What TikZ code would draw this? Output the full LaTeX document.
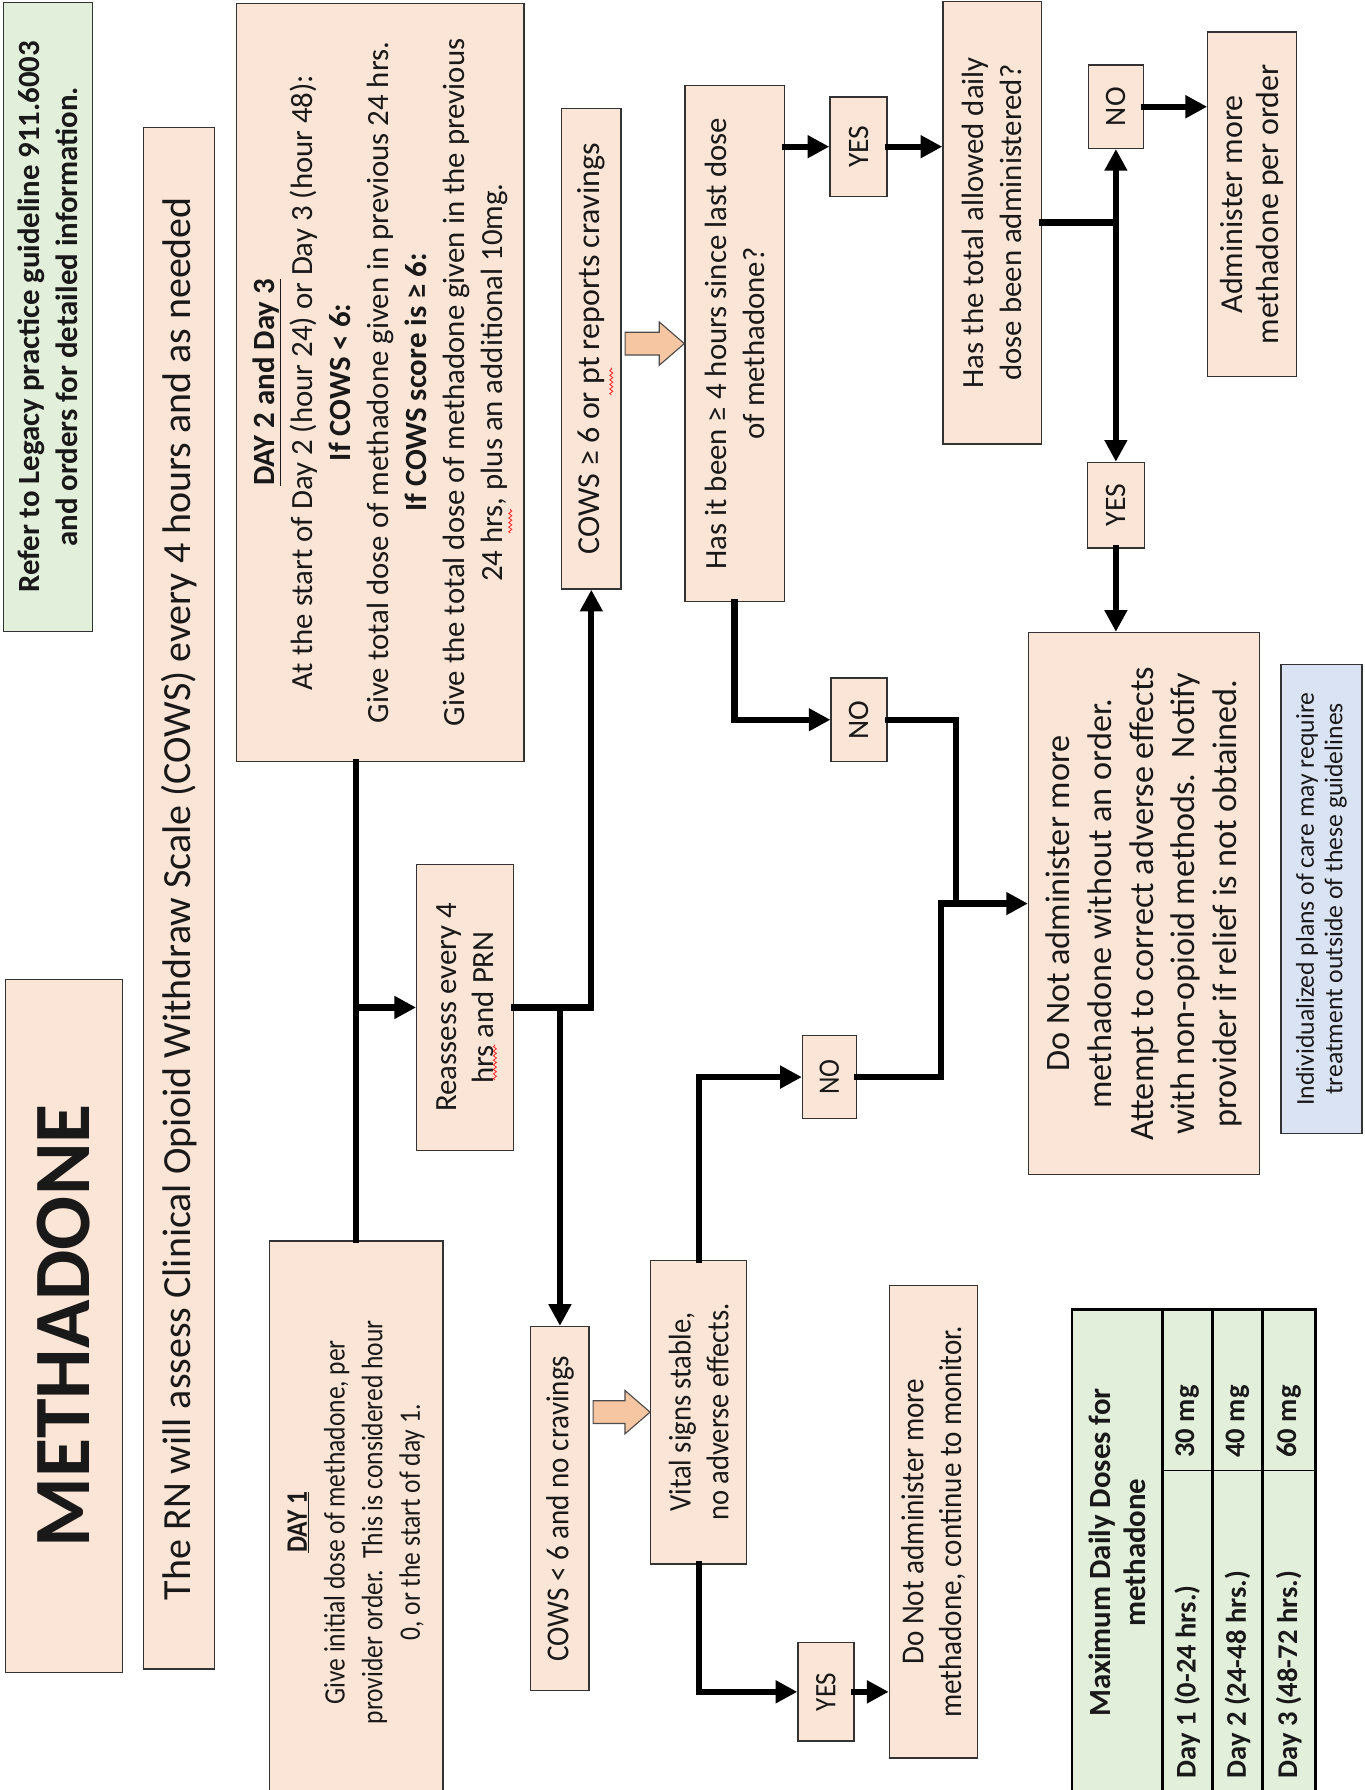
\documentclass[tikz,border=0pt]{standalone}
\usepackage{fontspec}
\setmainfont{Carlito}
\newfontfamily\condfont[FakeStretch=0.86]{Carlito}
\newfontfamily\semicond[FakeStretch=0.91]{Carlito}
\usetikzlibrary{arrows.meta,calc,decorations.pathmorphing}
\definecolor{peach}{HTML}{FBE5D6}
\definecolor{lgreen}{HTML}{E2EFDA}
\definecolor{lblue}{HTML}{DAE3F3}
\definecolor{bafill}{HTML}{F6C6A3}
\begin{document}
\begin{tikzpicture}[x=1pt,y=-1pt,
  box/.style={draw=black!80, line width=1.1pt, fill=peach, rotate=90, align=center, inner sep=1pt, text=black!90,
    font=\fontsize{27}{33}\selectfont},
  yn/.style={box, font=\fontsize{26}{30}\selectfont},
  conn/.style={line width=5.5pt, black, line cap=rect},
  arr/.style={conn, -{Triangle[length=19pt,width=19pt]}},
  barrow/.style={draw=black!70, line width=1pt, fill=bafill, line join=miter},
  tcell/.style={rotate=90, anchor=west, inner sep=0pt, font=\bfseries\fontsize{25}{29}\selectfont, text=black!90},
  squiggle/.style={red!80, line width=0.8pt, decorate, decoration={snake, amplitude=1.3pt, segment length=4pt}}]
\useasboundingbox (0,0) rectangle (1195,1568);

% ---------- boxes ----------
\node[box, fill=lgreen, minimum width=551, minimum height=78, font=\bfseries\fontsize{27}{33}\selectfont] (refer) at (42,277.5)
  {Refer to Legacy practice guideline 911.6003\\and orders for detailed information.};
\node[box, minimum width=607, minimum height=102, font=\bfseries\fontsize{70}{76}\selectfont] (title) at (56,1161.5) {METHADONE};
\node[box, minimum width=1350, minimum height=62, font=\fontsize{35}{40}\selectfont] (rn) at (157,787)
  {The RN will assess Clinical Opioid Withdraw Scale (COWS) every 4 hours and as needed};
\node[box, minimum width=664, minimum height=252, font=\fontsize{27}{33.3}\selectfont] (day23) at (333,335)
  {\underline{\textbf{DAY 2 and Day 3}}\\
   At the start of Day 2 (hour 24) or Day 3 (hour 48):\\
   \textbf{If COWS < 6:}\\
   Give total dose of methadone given in previous 24 hrs.\\
   \textbf{If COWS score is ≥ 6:}\\
   Give the total dose of methadone given in the previous\\
   24 hrs, plus an additional 10mg.};
\node[box, minimum width=493, minimum height=152, font=\condfont\fontsize{26}{33}\selectfont] (day1) at (312,1333.5)
  {\underline{\textbf{DAY 1}}\\
   Give initial dose of methadone, per\\
   provider order.\ \ This is considered hour\\
   0, or the start of day 1.};
\node[box, minimum width=251, minimum height=85] (reassess) at (407.5,882.5) {Reassess every 4\\hrs and PRN};
\node[box, minimum width=421, minimum height=52, font=\fontsize{28}{33}\selectfont] (cowsHi) at (518,305.5) {COWS ≥ 6 or pt reports cravings};
\node[box, minimum width=319, minimum height=51, font=\semicond\fontsize{28}{33}\selectfont] (cowsLo) at (490.5,1321.5) {COWS < 6 and no cravings};
\node[box, minimum width=452, minimum height=87] (q1) at (643.5,301) {Has it been ≥ 4 hours since last dose\\of methadone?};
\node[box, minimum width=266, minimum height=84, font=\semicond\fontsize{27.5}{33}\selectfont] (vital) at (612,1237) {Vital signs stable,\\no adverse effects.};
\node[yn, minimum width=87, minimum height=50] (yes1) at (752,128.5) {YES};
\node[box, minimum width=388, minimum height=86] (q2) at (869,195) {Has the total allowed daily\\dose been administered?};
\node[yn, minimum width=73, minimum height=48] (no1) at (977.5,93.5) {NO};
\node[box, minimum width=302, minimum height=78, font=\fontsize{28}{31.5}\selectfont] (admin) at (1097,179) {Administer more\\methadone per order};
\node[yn, minimum width=75, minimum height=50] (yes2) at (977.5,442.5) {YES};
\node[yn, minimum width=73, minimum height=49] (no2) at (752.5,630.5) {NO};
\node[yn, minimum width=73, minimum height=47, font=\semicond\fontsize{26}{30}\selectfont] (no3) at (726.5,943.5) {NO};
\node[box, minimum width=475, minimum height=202, font=\fontsize{30}{36.5}\selectfont] (donot) at (1002,791.5)
  {Do Not administer more\\
   methadone without an order.\\
   Attempt to correct adverse effects\\
   with non-opioid methods.\ \ Notify\\
   provider if relief is not obtained.};
\node[box, fill=lblue, minimum width=411, minimum height=71, font=\fontsize{22.5}{25}\selectfont] (indiv) at (1157.5,787.5)
  {Individualized plans of care may require\\treatment outside of these guidelines};
\node[yn, minimum width=86, minimum height=49, font=\semicond\fontsize{26}{30}\selectfont] (yes3) at (723.5,1482) {YES};
\node[box, minimum width=414, minimum height=77, font=\semicond\fontsize{28}{33}\selectfont] (monitor) at (817.5,1333)
  {Do Not administer more\\methadone, continue to monitor.};

% ---------- spelling marks ----------
\draw[squiggle] (535.5,346) -- (535.5,322);
\draw[squiggle] (433.5,946) -- (433.5,915);
\draw[squiggle] (447,467) -- (447,446);

% ---------- table ----------
\fill[lgreen] (939,1147) rectangle (1152,1575);
\draw[line width=1.2pt] (1018,1288) -- (1152,1288);
\draw[line width=2.5pt] (1018,1147) -- (1018,1575) (1062,1147) -- (1062,1575) (1106,1147) -- (1106,1575);
\draw[line width=2.5pt] (939,1147) rectangle (1152,1575);
\node[rotate=90, align=center, font=\bfseries\fontsize{27}{31}\selectfont, text=black!90] (th) at (978.5,1360)
  {Maximum Daily Doses for\\methadone};
\node[tcell] (v1) at (1040,1277) {30 mg};
\node[tcell] (v2) at (1084,1277) {40 mg};
\node[tcell] (v3) at (1129,1277) {60 mg};
\node[tcell] (l1) at (1040,1558) {Day 1 (0-24 hrs.)};
\node[tcell] (l2) at (1084,1558) {Day 2 (24-48 hrs.)};
\node[tcell] (l3) at (1129,1558) {Day 3 (48-72 hrs.)};

% ---------- connectors ----------
\draw[conn] (day1.east) -- (day1.east |- day23.west);
\draw[arr] (day1.east |- reassess.north) -- (reassess.north);
\draw[arr] (reassess.south) -| (cowsHi.west);
\draw[arr] (cowsLo.east |- reassess.south) -- (cowsLo.east);

\draw[barrow] ($(cowsHi.south |- q1.north)+(3,-10)$) -- ($(q1.north)+(-22,-10)$) -- ($(q1.north)+(-22,-19)$)
  -- (q1.north) -- ($(q1.north)+(-22,19)$) -- ($(q1.north)+(-22,10)$) -- ($(cowsHi.south |- q1.north)+(3,10)$) -- cycle;
\draw[barrow] ($(cowsLo.south |- vital.north)+(3,-10)$) -- ($(vital.north)+(-22,-10)$) -- ($(vital.north)+(-22,-19)$)
  -- (vital.north) -- ($(vital.north)+(-22,19)$) -- ($(vital.north)+(-22,10)$) -- ($(cowsLo.south |- vital.north)+(3,10)$) -- cycle;

\draw[arr] (q1.south |- yes1.north) -- (yes1.north);
\draw[arr] (yes1.south) -- (q2.north |- yes1.south);
\draw[conn] (q2.south) -- (no1.west |- q2.south);
\draw[arr] (no1.west |- q2.south) -- (no1.west);
\draw[arr] (no1.west |- q2.south) -- (yes2.east);
\draw[arr] (no1.south) -- (admin.north |- no1.south);
\draw[arr] (yes2.west) -- (yes2.west |- donot.east);

\draw[arr] (q1.west) |- (no2.north);
\coordinate (j1) at ($(donot.north)+(-63,0)$);
\coordinate (j2) at ($(donot.north)+(-76,0)$);
\draw[conn] (no2.south) -| (j1);
\draw[arr] (no3.south) -| (j2) -- (donot.north);

\draw[arr] (vital.east) |- (no3.north);
\draw[arr] (vital.west) |- (yes3.north);
\draw[arr] (yes3.south) -- (monitor.north |- yes3.south);
\end{tikzpicture}
\end{document}
